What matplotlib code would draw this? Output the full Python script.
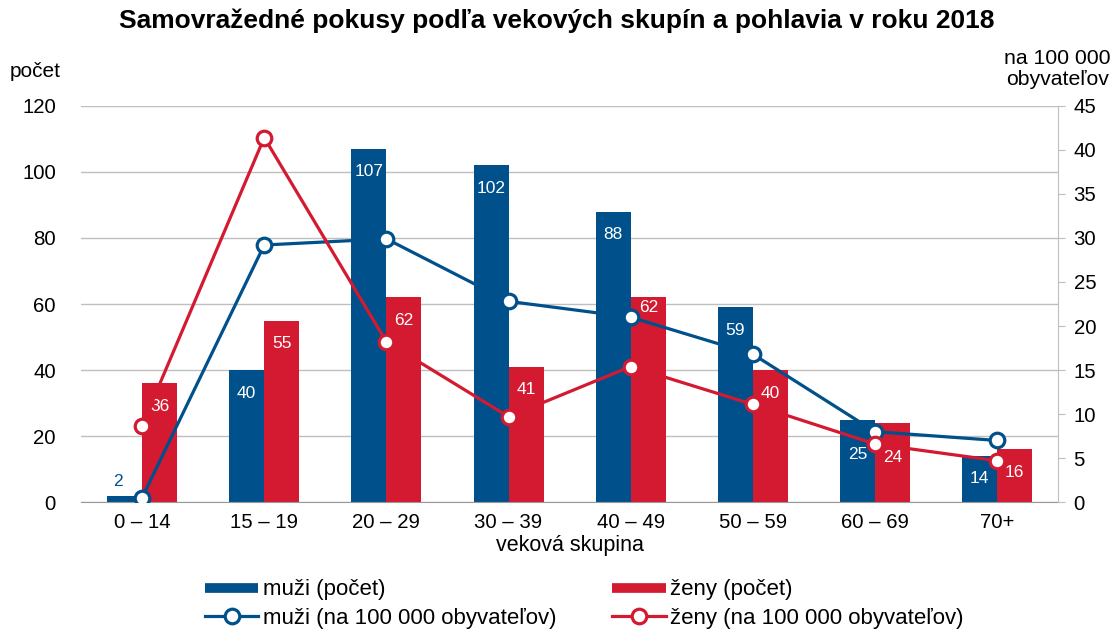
import matplotlib.pyplot as plt
import numpy as np
from matplotlib.lines import Line2D

plt.rcParams['font.family'] = ['Liberation Sans', 'DejaVu Sans']

skupiny = ['0 – 14', '15 – 19', '20 – 29', '30 – 39', '40 – 49', '50 – 59', '60 – 69', '70+']
muzi_pocet = [2, 40, 107, 102, 88, 59, 25, 14]
zeny_pocet = [36, 55, 62, 41, 62, 40, 24, 16]
muzi_100k = [0.5, 29.2, 29.9, 22.8, 21.0, 16.8, 8.0, 7.0]
zeny_100k = [8.7, 41.4, 18.2, 9.7, 15.4, 11.1, 6.6, 4.7]

modra = '#00508c'
cervena = '#d31a30'
seda = '#bfbfbf'

fig = plt.figure(figsize=(11.14, 6.34), dpi=100)
ax = fig.add_axes([0.0727, 0.208, 0.8773, 0.625])
ax2 = ax.twinx()

x = np.arange(len(skupiny))
w = 0.287
ax.bar(x - w/2, muzi_pocet, w, color=modra, zorder=2)
ax.bar(x + w/2, zeny_pocet, w, color=cervena, zorder=2)

ax.set_xlim(-0.5, len(skupiny) - 0.5)
ax.set_ylim(0, 120)
ax.set_yticks(range(0, 121, 20))
ax.yaxis.grid(True, color=seda, lw=1, zorder=0)
ax.set_axisbelow(True)
for s in ['top', 'left', 'right']:
    ax.spines[s].set_visible(False)
ax.spines['bottom'].set_color('#999999')
ax.tick_params(axis='y', length=0, labelsize=14.7, pad=18)
ax.tick_params(axis='x', length=0, labelsize=14.7, pad=8)
ax.set_xticks(x)
ax.set_xticklabels(skupiny)
ax.set_xlabel('veková skupina', fontsize=15.5, labelpad=2)

# popisky stlpcov
posun_m = {6: -35}
posun_z = {4: -10, 6: -35}
for i, v in enumerate(muzi_pocet):
    if i == 0:
        ax.annotate(str(v), (x[i] - w/2 - 0.05, v), xytext=(0, 14), textcoords='offset pixels',
                    ha='center', va='center', color=modra, fontsize=12.5)
    else:
        ax.annotate(str(v), (x[i] - w/2, v), xytext=(0, posun_m.get(i, -23)), textcoords='offset pixels',
                    ha='center', va='center', color='white', fontsize=12.5)
for i, v in enumerate(zeny_pocet):
    ax.annotate(str(v), (x[i] + w/2, v), xytext=(0, posun_z.get(i, -23)), textcoords='offset pixels',
                ha='center', va='center', color='white', fontsize=12.5)

mk = dict(marker='o', markersize=10.5, markerfacecolor='white', markeredgewidth=2.3, lw=2.3)
ax2.plot(x, muzi_100k, color=modra, **mk)
ax2.plot(x, zeny_100k, color=cervena, **mk)
ax2.set_ylim(0, 45)
ax2.set_yticks(range(0, 46, 5))
for s in ['top', 'left', 'bottom']:
    ax2.spines[s].set_visible(False)
ax2.spines['right'].set_color(seda)
ax2.tick_params(axis='y', length=5, color=seda, labelsize=14.7, pad=6)

fig.text(0.5, 0.968, 'Samovražedné pokusy podľa vekových skupín a pohlavia v roku 2018',
         ha='center', va='center', fontsize=19, fontweight='bold')
fig.text(0.009, 0.887, 'počet', ha='left', va='center', fontsize=15)
fig.text(0.949, 0.891, 'na 100 000\nobyvateľov', ha='center', va='center', fontsize=15.3,
         multialignment='center', linespacing=1.1)

handles = [Line2D([], [], color=modra, lw=7, solid_capstyle='butt'), Line2D([], [], color=modra, **mk),
           Line2D([], [], color=cervena, lw=7, solid_capstyle='butt'), Line2D([], [], color=cervena, **mk)]
labels = ['muži (počet)', 'muži (na 100 000 obyvateľov)', 'ženy (počet)', 'ženy (na 100 000 obyvateľov)']
fig.legend(handles, labels, ncol=2, loc='upper left', bbox_to_anchor=(0.184, 0.086),
           frameon=False, fontsize=16, handlelength=2.4, handletextpad=0.22,
           columnspacing=2.5, labelspacing=0.35, borderaxespad=0, borderpad=0)

fig.savefig('out.png', dpi=100)
